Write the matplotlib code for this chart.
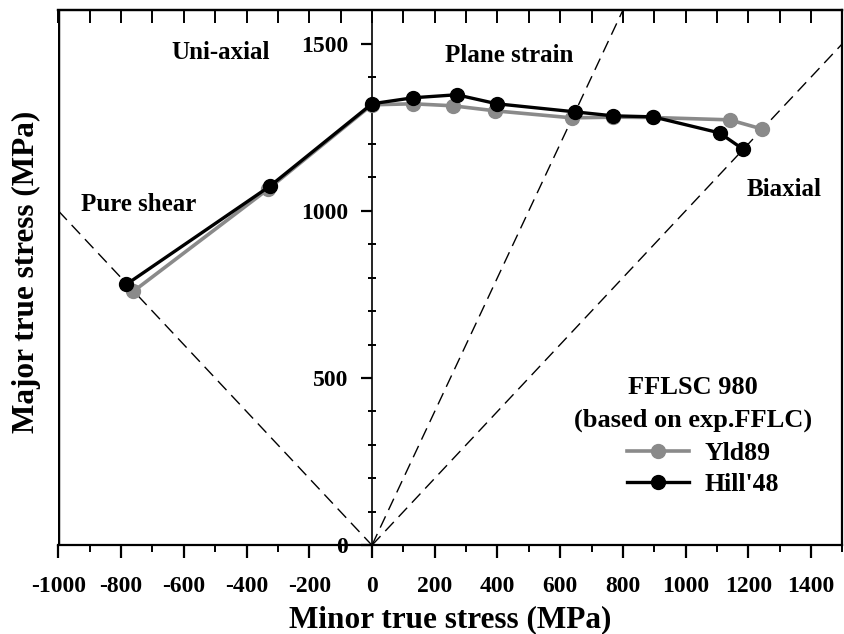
import matplotlib.pyplot as plt
import numpy as np
from matplotlib.ticker import MultipleLocator

plt.rcParams['font.family'] = ['Liberation Serif', 'DejaVu Serif']
plt.rcParams['font.weight'] = 'bold'
plt.rcParams['axes.unicode_minus'] = False

# data (MPa)
yld89_minor = [-761, -331, 0, 131, 258, 392, 637, 768, 896, 1140, 1242]
yld89_major = [759, 1065, 1317, 1320, 1314, 1299, 1278, 1280, 1279, 1272, 1245]

hill48_minor = [-783, -325, 0, 131, 270, 398, 646, 768, 896, 1108, 1182]
hill48_major = [780, 1074, 1320, 1338, 1347, 1320, 1296, 1284, 1281, 1233, 1185]

# reference stress paths (slopes)
path_shear = -1.0
path_plane = 2.0
path_biax = 1.0

fig, ax = plt.subplots(figsize=(8.45, 6.34), dpi=100)
fig.subplots_adjust(left=0.069, right=0.997, top=0.984, bottom=0.14)

ax.set_xlim(-1000, 1500)
ax.set_ylim(0, 1600)

# dashed loading paths
dash = dict(color='black', lw=1.0, ls=(0, (9, 5)), zorder=1)
xs = np.array([-1000, 0])
ax.plot(xs, path_shear * xs, **dash)
xs = np.array([0, 800])
ax.plot(xs, path_plane * xs, **dash)
xs = np.array([0, 1500])
ax.plot(xs, path_biax * xs, **dash)

ax.plot(yld89_minor, yld89_major, '-o', color='#8a8a8a', lw=2.6, ms=10,
        label='Yld89', zorder=3)
ax.plot(hill48_minor, hill48_major, '-o', color='black', lw=2.4, ms=10,
        label="Hill'48", zorder=4)

# spines: y axis runs through zero, frame kept by extra line
for s in ['top', 'right', 'bottom']:
    ax.spines[s].set_linewidth(1.6)
ax.spines['left'].set_position(('data', 0))
ax.spines['left'].set_linewidth(1.2)
ax.axvline(-1000, color='black', lw=3.2, zorder=5)

ax.xaxis.set_major_locator(MultipleLocator(200))
ax.xaxis.set_minor_locator(MultipleLocator(100))
ax.yaxis.set_major_locator(MultipleLocator(500))
ax.yaxis.set_minor_locator(MultipleLocator(100))

ax.tick_params(axis='x', which='major', direction='out', length=9, width=1.6,
               labelsize=17, pad=13)
ax.tick_params(axis='x', which='minor', direction='out', length=5, width=1.4)
ax.tick_params(axis='y', which='major', direction='out', length=8, width=1.6,
               labelsize=17, pad=9)
ax.tick_params(axis='y', which='minor', direction='inout', length=6, width=1.4)

top = ax.secondary_xaxis('top')
top.xaxis.set_major_locator(MultipleLocator(200))
top.xaxis.set_minor_locator(MultipleLocator(100))
top.tick_params(which='both', direction='in', length=9, width=1.4, labeltop=False)
top.spines['top'].set_linewidth(1.6)

ax.set_xlabel('Minor true stress (MPa)', fontsize=22.5, fontweight='bold', labelpad=6)
ax.set_ylabel('Major true stress (MPa)', fontsize=22.5, fontweight='bold')
ax.yaxis.set_label_coords(-0.022, 0.51)

txt = dict(fontsize=18, fontweight='bold', ha='center', va='center')
ax.text(-481, 1473, 'Uni-axial', **txt)
ax.text(439, 1464, 'Plane strain', **txt)
ax.text(-745, 1020, 'Pure shear', **txt)
ax.text(1315, 1065, 'Biaxial', **txt)

# legend title written separately so the entries can sit a bit to the right
ax.text(0.809, 0.2636, 'FFLSC 980\n(based on exp.FFLC)', transform=ax.transAxes,
        fontsize=19, fontweight='bold', ha='center', va='center',
        multialignment='center', linespacing=1.55)
leg = ax.legend(loc='center', bbox_to_anchor=(0.822, 0.142), frameon=False,
                fontsize=18.5, handlelength=2.4, handletextpad=0.6,
                labelspacing=0.3, borderaxespad=0, borderpad=0)

fig.savefig('out.png', dpi=100)
